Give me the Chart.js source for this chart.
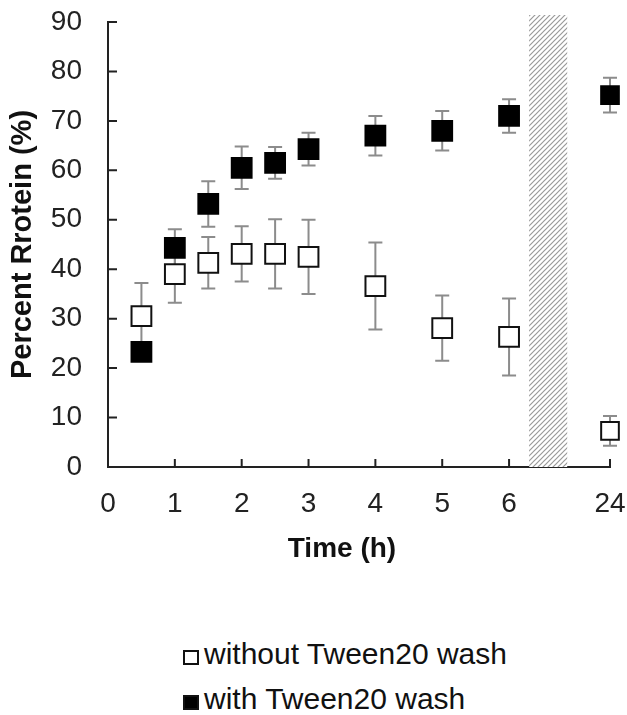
<!DOCTYPE html>
<html>
<head>
<meta charset="utf-8">
<script src="https://cdn.jsdelivr.net/npm/chart.js@4.4.1/dist/chart.umd.min.js"></script>
<style>
  html, body { margin: 0; padding: 0; background: #fff; }
  body { width: 627px; height: 715px; position: relative; overflow: hidden; font-family: "Liberation Sans", Arial, sans-serif; }
  #wrap { position: absolute; left: 0; top: 0; width: 627px; height: 600px; }
  #legend { position: absolute; left: 183px; top: 636px; font-size: 30px; color: #111; }
  #legend .row { height: 45px; line-height: 36px; white-space: nowrap; }
  #legend .box { display: inline-block; width: 12px; height: 11px; border: 2px solid #111; margin-right: 5px; vertical-align: -1px; }
</style>
</head>
<body>
<div id="wrap"><canvas id="chart"></canvas></div>
<div id="legend"></div>
<script>
// ---- data ----
const timeHours = [0.5, 1, 1.5, 2, 2.5, 3, 4, 5, 6, 24];
const withoutWash = [30.5, 39.0, 41.3, 43.1, 43.1, 42.5, 36.6, 28.1, 26.3, 7.3];
const withoutWashErr = [6.7, 5.8, 5.2, 5.6, 7.0, 7.5, 8.8, 6.6, 7.8, 3.0];
const withWash = [23.3, 44.3, 53.2, 60.5, 61.5, 64.3, 67.0, 68.0, 71.0, 75.2];
const withWashErr = [1.5, 3.8, 4.6, 4.3, 3.2, 3.3, 4.0, 4.0, 3.4, 3.5];
const xTickHours = [0, 1, 2, 3, 4, 5, 6, 24];
const seriesNames = ['without Tween20 wash', 'with Tween20 wash'];

// broken axis: 24 h sits after the hatched gap
const AXIS_24 = 7.51;
const GAP_FROM = 6.30, GAP_TO = 6.87;
const xPos = t => (t > 6 ? AXIS_24 : t);

const FONT = '"Liberation Sans", Arial, sans-serif';

function hatchPattern(ctx) {
    const c = document.createElement('canvas');
    c.width = 5; c.height = 5;
    const g = c.getContext('2d');
    g.fillStyle = '#fff';
    g.fillRect(0, 0, 5, 5);
    g.strokeStyle = '#999';
    g.lineWidth = 1.2;
    g.beginPath();
    g.moveTo(-1, 6); g.lineTo(6, -1);
    g.moveTo(-1, 1); g.lineTo(1, -1);
    g.moveTo(4, 6); g.lineTo(6, 4);
    g.stroke();
    return ctx.createPattern(c, 'repeat');
}

const breakPlugin = {
    id: 'breakGap',
    beforeDatasetsDraw(chart) {
        const { ctx, scales: { x, y } } = chart;
        const x0 = x.getPixelForValue(GAP_FROM);
        const x1 = x.getPixelForValue(GAP_TO);
        ctx.save();
        ctx.fillStyle = hatchPattern(ctx);
        ctx.fillRect(x0, y.top - 7, x1 - x0, y.bottom - y.top + 7);
        ctx.restore();
    }
};

const errorBarPlugin = {
    id: 'errorBars',
    beforeDatasetsDraw(chart) {
        const { ctx, scales: { x, y } } = chart;
        ctx.save();
        ctx.strokeStyle = '#8c8c8c';
        ctx.lineWidth = 2;
        chart.data.datasets.forEach(ds => {
            ds.data.forEach((p, i) => {
                const e = ds.errors[i];
                const px = x.getPixelForValue(p.x);
                const top = y.getPixelForValue(p.y + e);
                const bot = y.getPixelForValue(p.y - e);
                ctx.beginPath();
                ctx.moveTo(px, top); ctx.lineTo(px, bot);
                ctx.moveTo(px - 7, top); ctx.lineTo(px + 7, top);
                ctx.moveTo(px - 7, bot); ctx.lineTo(px + 7, bot);
                ctx.stroke();
            });
        });
        ctx.restore();
    }
};

const axisPlugin = {
    id: 'innerTicks',
    afterDatasetsDraw(chart) {
        const { ctx, scales: { x, y } } = chart;
        ctx.save();
        ctx.strokeStyle = '#222';
        ctx.lineWidth = 2;
        ctx.beginPath();
        x.ticks.forEach(t => {
            const px = x.getPixelForValue(t.value);
            if (px <= x.left + 1) return;
            ctx.moveTo(px, y.bottom); ctx.lineTo(px, y.bottom - 8);
        });
        y.ticks.forEach(t => {
            const py = y.getPixelForValue(t.value);
            if (py >= y.bottom - 1) return;
            ctx.moveTo(x.left, py); ctx.lineTo(x.left + 9, py);
        });
        ctx.stroke();
        // x axis title, centred like the original figure
        ctx.fillStyle = '#111';
        ctx.font = 'bold 28px ' + FONT;
        ctx.textAlign = 'center';
        ctx.textBaseline = 'middle';
        ctx.fillText('Time (h)', x.getPixelForValue(3.5), 549);
        ctx.restore();
    }
};

const toPoints = vals => vals.map((v, i) => ({ x: xPos(timeHours[i]), y: v }));
const radii = timeHours.map(t => (t > 6 ? 12.5 : 14));

new Chart(document.getElementById('chart'), {
    type: 'scatter',
    data: {
        datasets: [
            {
                label: seriesNames[0],
                data: toPoints(withoutWash),
                errors: withoutWashErr,
                clip: false,
                pointStyle: 'rect',
                pointRadius: radii,
                pointBackgroundColor: '#fff',
                pointBorderColor: '#111',
                pointBorderWidth: 2
            },
            {
                label: seriesNames[1],
                data: toPoints(withWash),
                errors: withWashErr,
                clip: false,
                pointStyle: 'rect',
                pointRadius: radii,
                pointBackgroundColor: '#000',
                pointBorderColor: '#000',
                pointBorderWidth: 2
            }
        ]
    },
    options: {
        responsive: true,
        maintainAspectRatio: false,
        animation: false,
        layout: { autoPadding: false, padding: { left: 0, right: 17, top: 22, bottom: 78 } },
        plugins: {
            legend: { display: false },
            tooltip: { enabled: false }
        },
        scales: {
            x: {
                type: 'linear',
                min: 0,
                max: AXIS_24,
                afterBuildTicks: axis => { axis.ticks = xTickHours.map(h => ({ value: xPos(h) })); },
                afterFit: axis => { axis.height = 55; axis.paddingLeft = 0; axis.paddingRight = 0; },
                ticks: {
                    padding: 20,
                    color: '#222',
                    font: { family: FONT, size: 28 },
                    maxRotation: 0,
                    callback: v => { const i = xTickHours.findIndex(h => xPos(h) === v); return i >= 0 ? String(xTickHours[i]) : ''; }
                },
                grid: { display: false, drawTicks: false },
                border: { display: true, color: '#222', width: 2 }
            },
            y: {
                min: 0,
                max: 90,
                afterFit: axis => { axis.width = 108; axis.paddingTop = 0; axis.paddingBottom = 0; },
                ticks: {
                    stepSize: 10,
                    padding: 26,
                    color: '#222',
                    font: { family: FONT, size: 28 }
                },
                grid: { display: false, drawTicks: false },
                border: { display: true, color: '#222', width: 2 },
                title: {
                    display: true,
                    text: 'Percent Rrotein (%)',
                    color: '#111',
                    font: { family: FONT, size: 29, weight: 'bold' },
                    padding: { top: 6, bottom: 0 }
                }
            }
        }
    },
    plugins: [breakPlugin, errorBarPlugin, axisPlugin]
});

// legend rows, open square first
const legendEl = document.getElementById('legend');
seriesNames.forEach((name, i) => {
    const row = document.createElement('div');
    row.className = 'row';
    const box = document.createElement('span');
    box.className = 'box';
    box.style.background = i === 0 ? '#fff' : '#000';
    row.appendChild(box);
    row.appendChild(document.createTextNode(name));
    legendEl.appendChild(row);
});
</script>
</body>
</html>
